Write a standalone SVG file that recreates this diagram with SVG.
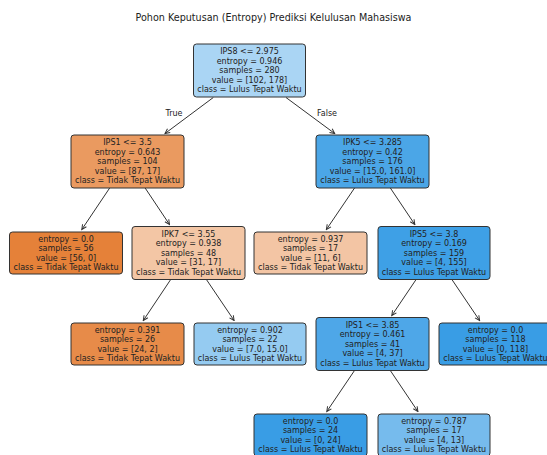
<svg xmlns="http://www.w3.org/2000/svg" width="547" height="455" viewBox="0 0 547 455">
<style>
.t{font-family:"DejaVu Sans","Liberation Sans",sans-serif;font-size:8px;fill:#222;text-anchor:middle}
.title{font-family:"DejaVu Sans","Liberation Sans",sans-serif;font-size:9.6px;fill:#222;text-anchor:middle}
.box{stroke:#333;stroke-width:1}
.e{stroke:#333;stroke-width:1;fill:none;marker-end:url(#ah)}
</style>
<defs>
<marker id="ah" markerUnits="userSpaceOnUse" markerWidth="7" markerHeight="7" viewBox="0 0 7 7" refX="6" refY="3.5" orient="auto">
<path d="M1.2,1.2 L6,3.5 L1.2,5.8" fill="none" stroke="#333" stroke-width="1"/>
</marker>
</defs>
<rect width="547" height="455" fill="#fff"/>
<text class="title" x="273.5" y="20.5">Pohon Keputusan (Entropy) Prediksi Kelulusan Mahasiswa</text>
<g id="edges">
<line class="e" x1="213.3" y1="97.5" x2="165" y2="133.5"/>
<line class="e" x1="286" y1="97.5" x2="334.7" y2="133.5"/>
<line class="e" x1="110" y1="187.5" x2="81.8" y2="229.5"/>
<line class="e" x1="144.8" y1="187.5" x2="169.5" y2="224.5"/>
<line class="e" x1="354.9" y1="187.5" x2="326.4" y2="229.5"/>
<line class="e" x1="390" y1="187.5" x2="414.8" y2="224.5"/>
<line class="e" x1="170.7" y1="279.5" x2="143.3" y2="320.5"/>
<line class="e" x1="206.4" y1="279.5" x2="234.1" y2="320.5"/>
<line class="e" x1="416.1" y1="279.5" x2="391.8" y2="315.5"/>
<line class="e" x1="451.9" y1="279.5" x2="479.6" y2="320.5"/>
<line class="e" x1="354.5" y1="370.5" x2="326.8" y2="411.5"/>
<line class="e" x1="390.3" y1="370.5" x2="417.9" y2="411.5"/>
<text class="t" x="174" y="116">True</text>
<text class="t" x="327" y="116">False</text>
</g>
<g id="n0">
<rect class="box" x="193.5" y="44" width="112" height="53" rx="3" fill="#aad5f4"/>
<text class="t" x="249.5" y="54.3">IPS8 &lt;= 2.975</text>
<text class="t" x="249.5" y="63.8">entropy = 0.946</text>
<text class="t" x="249.5" y="73.3">samples = 280</text>
<text class="t" x="249.5" y="82.8">value = [102, 178]</text>
<text class="t" x="249.5" y="92.3">class = Lulus Tepat Waktu</text>
</g>
<g id="n1">
<rect class="box" x="71" y="135" width="113" height="53" rx="3" fill="#ea9a60"/>
<text class="t" x="127.5" y="145.3">IPS1 &lt;= 3.5</text>
<text class="t" x="127.5" y="154.8">entropy = 0.643</text>
<text class="t" x="127.5" y="164.3">samples = 104</text>
<text class="t" x="127.5" y="173.8">value = [87, 17]</text>
<text class="t" x="127.5" y="183.3">class = Tidak Tepat Waktu</text>
</g>
<g id="n2">
<rect class="box" x="316" y="135" width="113" height="53" rx="3" fill="#4ba6e7"/>
<text class="t" x="372.5" y="145.3">IPK5 &lt;= 3.285</text>
<text class="t" x="372.5" y="154.8">entropy = 0.42</text>
<text class="t" x="372.5" y="164.3">samples = 176</text>
<text class="t" x="372.5" y="173.8">value = [15.0, 161.0]</text>
<text class="t" x="372.5" y="183.3">class = Lulus Tepat Waktu</text>
</g>
<g id="n3">
<rect class="box" x="9.5" y="232" width="113" height="42" rx="3" fill="#e58139"/>
<text class="t" x="66" y="241.5">entropy = 0.0</text>
<text class="t" x="66" y="251">samples = 56</text>
<text class="t" x="66" y="260.5">value = [56, 0]</text>
<text class="t" x="66" y="270">class = Tidak Tepat Waktu</text>
</g>
<g id="n4">
<rect class="box" x="132" y="226.5" width="113" height="53" rx="3" fill="#f3c6a5"/>
<text class="t" x="188.5" y="236.8">IPK7 &lt;= 3.55</text>
<text class="t" x="188.5" y="246.3">entropy = 0.938</text>
<text class="t" x="188.5" y="255.8">samples = 48</text>
<text class="t" x="188.5" y="265.3">value = [31, 17]</text>
<text class="t" x="188.5" y="274.8">class = Tidak Tepat Waktu</text>
</g>
<g id="n5">
<rect class="box" x="254" y="232" width="113" height="42" rx="3" fill="#f3c5a4"/>
<text class="t" x="310.5" y="241.5">entropy = 0.937</text>
<text class="t" x="310.5" y="251">samples = 17</text>
<text class="t" x="310.5" y="260.5">value = [11, 6]</text>
<text class="t" x="310.5" y="270">class = Tidak Tepat Waktu</text>
</g>
<g id="n6">
<rect class="box" x="378" y="226.5" width="112" height="53" rx="3" fill="#3ea0e6"/>
<text class="t" x="434" y="236.8">IPS5 &lt;= 3.8</text>
<text class="t" x="434" y="246.3">entropy = 0.169</text>
<text class="t" x="434" y="255.8">samples = 159</text>
<text class="t" x="434" y="265.3">value = [4, 155]</text>
<text class="t" x="434" y="274.8">class = Lulus Tepat Waktu</text>
</g>
<g id="n7">
<rect class="box" x="71" y="323" width="113" height="42" rx="3" fill="#e78b49"/>
<text class="t" x="127.5" y="332.5">entropy = 0.391</text>
<text class="t" x="127.5" y="342">samples = 26</text>
<text class="t" x="127.5" y="351.5">value = [24, 2]</text>
<text class="t" x="127.5" y="361">class = Tidak Tepat Waktu</text>
</g>
<g id="n8">
<rect class="box" x="194" y="323" width="112" height="42" rx="3" fill="#95cbf1"/>
<text class="t" x="250" y="332.5">entropy = 0.902</text>
<text class="t" x="250" y="342">samples = 22</text>
<text class="t" x="250" y="351.5">value = [7.0, 15.0]</text>
<text class="t" x="250" y="361">class = Lulus Tepat Waktu</text>
</g>
<g id="n9">
<rect class="box" x="316" y="317.5" width="113" height="53" rx="3" fill="#4ea7e8"/>
<text class="t" x="372.5" y="327.8">IPS1 &lt;= 3.85</text>
<text class="t" x="372.5" y="337.3">entropy = 0.461</text>
<text class="t" x="372.5" y="346.8">samples = 41</text>
<text class="t" x="372.5" y="356.3">value = [4, 37]</text>
<text class="t" x="372.5" y="365.8">class = Lulus Tepat Waktu</text>
</g>
<g id="n10">
<rect class="box" x="439" y="323" width="113" height="42" rx="3" fill="#399de5"/>
<text class="t" x="495.5" y="332.5">entropy = 0.0</text>
<text class="t" x="495.5" y="342">samples = 118</text>
<text class="t" x="495.5" y="351.5">value = [0, 118]</text>
<text class="t" x="495.5" y="361">class = Lulus Tepat Waktu</text>
</g>
<g id="n11">
<rect class="box" x="254" y="414" width="113" height="42" rx="3" fill="#399de5"/>
<text class="t" x="310.5" y="423.5">entropy = 0.0</text>
<text class="t" x="310.5" y="433">samples = 24</text>
<text class="t" x="310.5" y="442.5">value = [0, 24]</text>
<text class="t" x="310.5" y="452">class = Lulus Tepat Waktu</text>
</g>
<g id="n12">
<rect class="box" x="378" y="414" width="112" height="42" rx="3" fill="#76bbed"/>
<text class="t" x="434" y="423.5">entropy = 0.787</text>
<text class="t" x="434" y="433">samples = 17</text>
<text class="t" x="434" y="442.5">value = [4, 13]</text>
<text class="t" x="434" y="452">class = Lulus Tepat Waktu</text>
</g>
</svg>
